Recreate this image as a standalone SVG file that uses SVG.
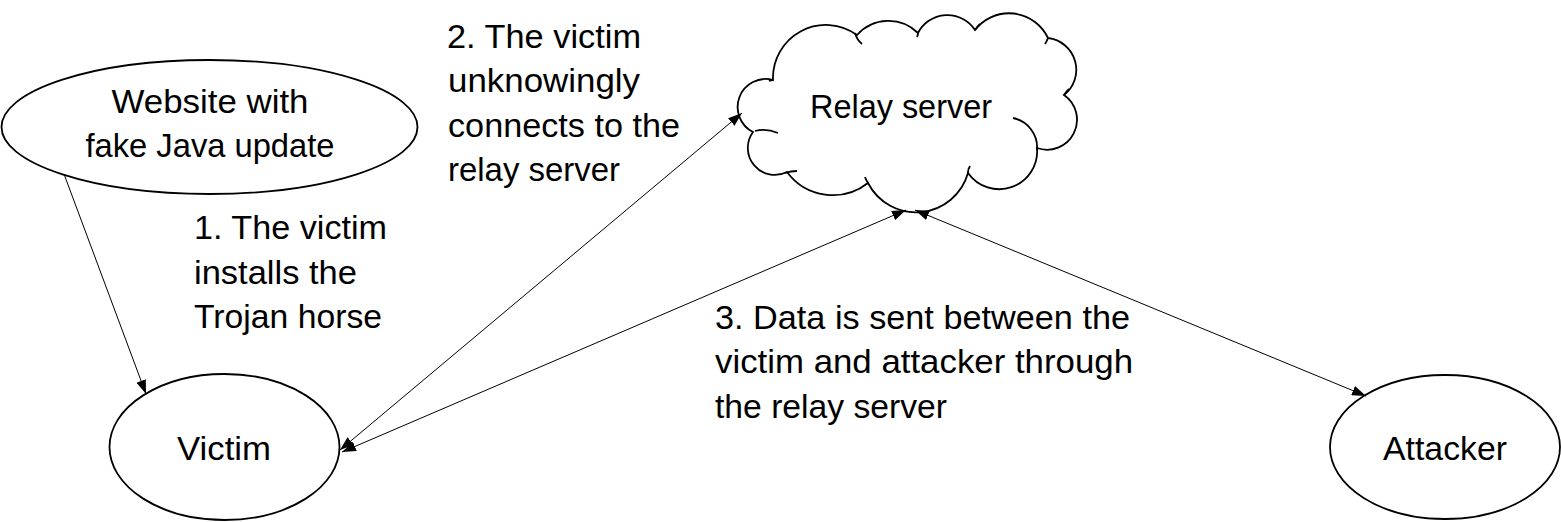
<svg xmlns="http://www.w3.org/2000/svg" width="1561" height="522" viewBox="0 0 1561 522">
<defs>
<style>
.node{fill:#fff;stroke:#000;stroke-width:1.8}
.crease{fill:none;stroke:#000;stroke-width:1.8}
.lbl{font-family:"Liberation Sans",Arial,sans-serif;font-size:34px;fill:#000}
.c{text-anchor:middle}
.edge{stroke:#000;stroke-width:1;fill:none}
</style>
<marker id="ah" viewBox="0 0 14 10" refX="14" refY="5" markerWidth="14" markerHeight="10" markerUnits="userSpaceOnUse" orient="auto-start-reverse">
<path d="M0,0 L14,5 L0,10 z" fill="#000"/>
</marker>
</defs>
<rect width="1561" height="522" fill="#fff"/>
<g id="website">
<ellipse class="node" cx="209.5" cy="127" rx="208" ry="67"/>
<text class="lbl c" x="210" y="113" textLength="197" lengthAdjust="spacingAndGlyphs">Website with</text>
<text class="lbl c" x="210" y="157" textLength="249" lengthAdjust="spacingAndGlyphs">fake Java update</text>
</g>
<g id="victim">
<ellipse class="node" cx="224.5" cy="447" rx="115" ry="73"/>
<text class="lbl c" x="224" y="460" textLength="94" lengthAdjust="spacingAndGlyphs">Victim</text>
</g>
<g id="attacker">
<ellipse class="node" cx="1445" cy="447" rx="115" ry="72"/>
<text class="lbl c" x="1445" y="460" textLength="124" lengthAdjust="spacingAndGlyphs">Attacker</text>
</g>
<g id="relay">
<path class="node" d="M773,80 A53,53 0 0 1 857,35 A42,42 0 0 1 918,33 A33,33 0 0 1 975,30 A43,43 0 0 1 1048,38 A32,32 0 0 1 1064,95 A30,30 0 0 1 1037,148 A38,38 0 0 1 968,173 A54,54 0 0 1 868,183 A57,57 0 0 1 787,172 A27,27 0 0 1 753,132 A28,28 0 0 1 773,80 Z"/>
<path class="crease" d="M1013,118 A30,30 0 0 1 1037,150"/>
<path class="crease" d="M755,131 Q766,128 778,133"/>
<path class="crease" d="M785,173 Q791,171 797,171"/>
<path class="crease" d="M855,33 Q857,40 862,44"/>
<path class="crease" d="M918,33 Q918,35 917,37"/>
<path class="crease" d="M975,30 Q977,27 980,24"/>
<path class="crease" d="M1048,38 Q1047,41 1045,44"/>
<path class="crease" d="M1064,95 Q1066,92 1069,89"/>
<path class="crease" d="M968,173 Q968,169 970,166"/>
<path class="crease" d="M868,183 Q866,180 865,177"/>
<path class="crease" d="M773,80 Q771,80 769,81"/>
<text class="lbl c" x="901" y="118" textLength="182" lengthAdjust="spacingAndGlyphs">Relay server</text>
</g>
<g id="labels">
<text class="lbl" x="447" y="47.5" textLength="194" lengthAdjust="spacingAndGlyphs">2. The victim</text>
<text class="lbl" x="448" y="92" textLength="192" lengthAdjust="spacingAndGlyphs">unknowingly</text>
<text class="lbl" x="448" y="136.5" textLength="232" lengthAdjust="spacingAndGlyphs">connects to the</text>
<text class="lbl" x="448" y="181" textLength="172" lengthAdjust="spacingAndGlyphs">relay server</text>
<text class="lbl" x="194" y="239" textLength="193" lengthAdjust="spacingAndGlyphs">1. The victim</text>
<text class="lbl" x="194" y="283.5" textLength="163" lengthAdjust="spacingAndGlyphs">installs the</text>
<text class="lbl" x="194" y="328" textLength="188" lengthAdjust="spacingAndGlyphs">Trojan horse</text>
<text class="lbl" x="715" y="329" textLength="415" lengthAdjust="spacingAndGlyphs">3. Data is sent between the</text>
<text class="lbl" x="715" y="373" textLength="418" lengthAdjust="spacingAndGlyphs">victim and attacker through</text>
<text class="lbl" x="715" y="418" textLength="232" lengthAdjust="spacingAndGlyphs">the relay server</text>
</g>
<g id="connectors">
<line class="edge" x1="64" y1="174" x2="146" y2="394" marker-end="url(#ah)"/>
<line class="edge" x1="340" y1="450" x2="742" y2="113" marker-start="url(#ah)" marker-end="url(#ah)"/>
<line class="edge" x1="342" y1="452" x2="906" y2="210" marker-start="url(#ah)" marker-end="url(#ah)"/>
<line class="edge" x1="915" y1="210" x2="1366" y2="396" marker-start="url(#ah)" marker-end="url(#ah)"/>
</g>
</svg>
